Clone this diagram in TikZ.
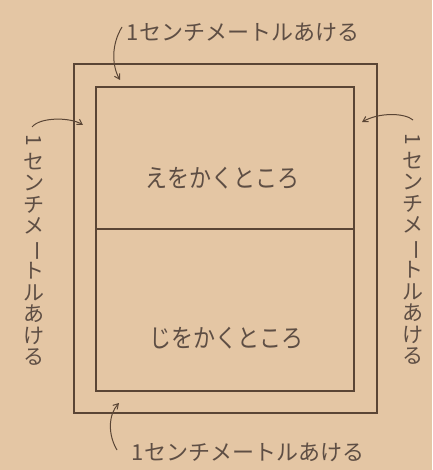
\documentclass[tikz,border=0pt]{standalone}
\usepackage{fontspec}
\usepackage{graphicx}
\newfontfamily\jp{Noto Sans CJK JP}
\usetikzlibrary{arrows.meta}
\definecolor{paper}{HTML}{E4C6A4}
\definecolor{ink}{HTML}{5A4535}
\definecolor{tink}{HTML}{5E4E44}
\begin{document}
\begin{tikzpicture}[x=1pt,y=-1pt,
  frame/.style={draw=ink,line width=1.4pt},
  lbl/.style={text=tink,inner sep=0pt,font=\jp\fontsize{22}{21.5}\selectfont},
  vlbl/.style={lbl,align=center,font=\jp\fontsize{21}{21.5}\selectfont},
  big/.style={text=tink,inner sep=0pt,font=\jp\fontsize{22}{24}\selectfont},
  pointer/.style={draw=ink,line width=1pt,-{Straight Barb[length=5pt,width=6pt]}}]
\fill[paper] (0,0) rectangle (432,470);
\useasboundingbox (0,0) rectangle (432,470);
% frames
\coordinate (oTL) at (74,64);
\coordinate (oBR) at (377,413);
\coordinate (iTL) at (96,87);
\coordinate (iBR) at (354,391);
\coordinate (mL) at (96,229);
\coordinate (mR) at (354,229);
\draw[frame] (oTL) rectangle (oBR);
\draw[frame] (iTL) rectangle (iBR);
\draw[frame] (mL) -- (mR);
% texts
\node[lbl] (top) at (243,32) {1センチメートルあける};
\node[lbl] (bot) at (248,452) {1センチメートルあける};
\node[vlbl] (left) at (34,250) {\rotatebox[origin=c]{-90}{1}\\セ\\ン\\チ\\メ\\\rotatebox[origin=c]{-90}{ー}\\ト\\ル\\あ\\け\\る};
\node[vlbl] (right) at (413,249) {\rotatebox[origin=c]{-90}{1}\\セ\\ン\\チ\\メ\\\rotatebox[origin=c]{-90}{ー}\\ト\\ル\\あ\\け\\る};
\node[big,yscale=1.15] (e) at (222,178) {えをかくところ};
\node[big,yscale=1.15] (ji) at (226,338) {じをかくところ};
% pointers
\coordinate (t0) at (122,27);
\coordinate (t1) at (120,80);
\draw[pointer] (t0) .. controls (111,45) and (112,66) .. (t1);
\coordinate (l0) at (32,127);
\coordinate (l1) at (83,125);
\draw[pointer] (l0) .. controls (40,117) and (70,117) .. (l1);
\coordinate (r0) at (413,120);
\coordinate (r1) at (362,122);
\draw[pointer] (r0) .. controls (405,113) and (380,112) .. (r1);
\coordinate (b0) at (117,450);
\coordinate (b1) at (119,403);
\draw[pointer] (b0) .. controls (108,435) and (108,415) .. (b1);
\end{tikzpicture}
\end{document}
